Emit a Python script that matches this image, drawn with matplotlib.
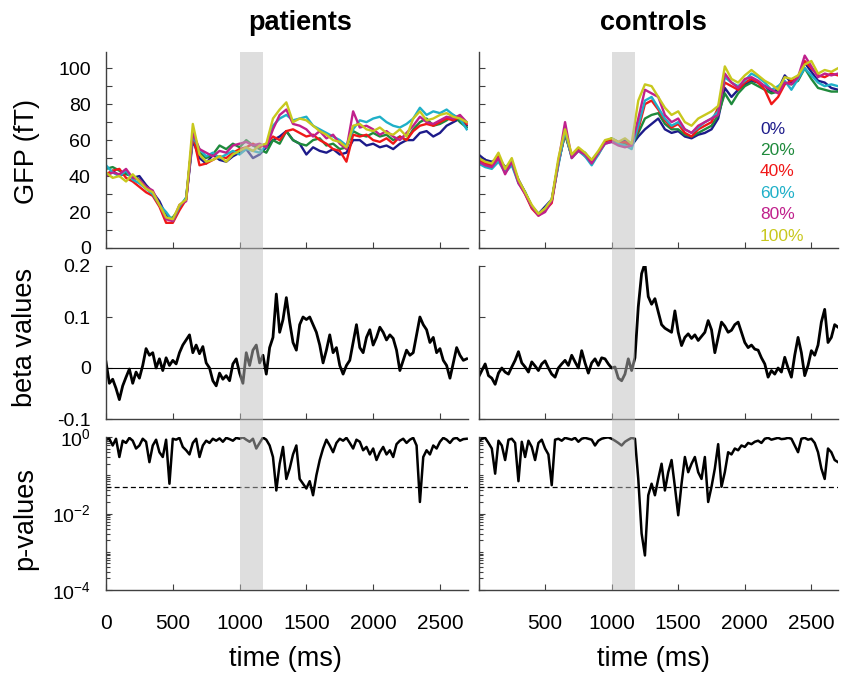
import numpy as np
import matplotlib
matplotlib.use('Agg')
import matplotlib.pyplot as plt
from matplotlib.patches import Rectangle
from matplotlib.transforms import blended_transform_factory
from matplotlib.ticker import FixedLocator, NullFormatter

plt.rcParams['font.family'] = ['Liberation Sans', 'DejaVu Sans']
plt.rcParams['mathtext.fontset'] = 'custom'
plt.rcParams['mathtext.rm'] = 'Liberation Sans'
plt.rcParams['mathtext.it'] = 'Liberation Sans:italic'
plt.rcParams['mathtext.bf'] = 'Liberation Sans:bold'

##### data #####
groups = ['patients', 'controls']
levels = ['0%', '20%', '40%', '60%', '80%', '100%']
level_colors = ['#1c1a8a', '#1f8a3c', '#f01818', '#1fb0c8', '#c0208c', '#c8c81e']

# GFP (fT), sampled every 50 ms from 0 to 2700 ms
t_gfp = np.arange(0, 2701, 50)
gfp_patients = [
    [40, 43, 40, 42, 39, 40, 35, 31, 26, 18, 15, 23, 27, 60, 50, 47, 52, 49, 48, 51,
     53, 55, 50, 52, 56, 60, 62, 65, 60, 58, 52, 56, 54, 53, 55, 52, 53, 60, 60, 57,
     58, 56, 57, 55, 58, 60, 60, 64, 65, 62, 64, 68, 70, 72, 68],
    [44, 45, 43, 41, 40, 38, 34, 30, 24, 16, 17, 22, 28, 62, 53, 50, 52, 57, 55, 58,
     56, 60, 57, 55, 53, 60, 58, 65, 60, 58, 57, 60, 61, 57, 58, 55, 56, 65, 63, 62,
     64, 62, 63, 60, 62, 60, 66, 70, 72, 68, 69, 71, 74, 70, 67],
    [41, 43, 44, 39, 37, 34, 31, 29, 23, 14, 14, 21, 27, 63, 46, 47, 49, 51, 50, 53,
     55, 56, 58, 56, 58, 62, 60, 65, 66, 64, 62, 63, 60, 58, 55, 54, 48, 63, 62, 63,
     60, 59, 61, 58, 62, 60, 65, 68, 69, 68, 70, 72, 71, 73, 69],
    [46, 42, 40, 43, 38, 36, 33, 30, 24, 20, 15, 23, 28, 62, 55, 51, 53, 50, 52, 54,
     52, 55, 54, 53, 57, 68, 72, 74, 71, 72, 73, 68, 66, 64, 62, 60, 57, 66, 71, 70,
     72, 73, 70, 68, 67, 69, 72, 78, 74, 76, 75, 77, 74, 72, 66],
    [40, 42, 41, 44, 39, 38, 34, 32, 24, 16, 15, 24, 26, 64, 55, 53, 51, 54, 53, 57,
     58, 59, 57, 58, 56, 66, 74, 77, 69, 68, 66, 62, 65, 61, 63, 58, 55, 76, 67, 68,
     66, 63, 65, 62, 60, 64, 68, 73, 70, 69, 71, 73, 72, 74, 70],
    [42, 39, 40, 37, 41, 37, 33, 31, 24, 17, 16, 24, 27, 69, 52, 48, 49, 51, 48, 52,
     54, 56, 54, 57, 58, 72, 77, 81, 70, 72, 71, 68, 65, 63, 60, 59, 56, 68, 69, 66,
     65, 67, 64, 63, 66, 62, 72, 76, 71, 72, 74, 75, 73, 72, 70],
]
gfp_controls = [
    [52, 49, 48, 50, 45, 47, 38, 31, 23, 19, 23, 27, 47, 64, 51, 55, 52, 49, 53, 59,
     60, 58, 60, 57, 62, 66, 69, 72, 66, 64, 65, 62, 61, 63, 64, 66, 72, 89, 84, 88,
     91, 93, 92, 90, 87, 88, 96, 92, 95, 103, 98, 93, 92, 89, 88],
    [49, 47, 46, 50, 43, 48, 37, 31, 23, 19, 22, 26, 48, 63, 51, 54, 53, 48, 53, 59,
     61, 59, 58, 57, 64, 72, 74, 75, 69, 66, 66, 63, 62, 64, 66, 68, 74, 86, 80, 86,
     90, 92, 90, 88, 86, 87, 92, 91, 93, 100, 94, 89, 88, 87, 87],
    [49, 47, 46, 51, 43, 47, 37, 30, 22, 18, 21, 25, 47, 64, 51, 55, 51, 48, 52, 59,
     60, 58, 59, 57, 66, 80, 82, 77, 71, 67, 69, 64, 62, 66, 68, 70, 78, 92, 90, 88,
     92, 94, 92, 88, 80, 84, 91, 93, 94, 104, 100, 96, 95, 97, 96],
    [47, 45, 44, 48, 42, 46, 36, 31, 23, 19, 22, 27, 46, 65, 50, 54, 51, 46, 52, 58,
     59, 58, 57, 55, 68, 82, 84, 78, 72, 68, 70, 66, 64, 67, 70, 72, 76, 95, 92, 90,
     93, 97, 95, 92, 88, 90, 93, 88, 94, 100, 96, 92, 90, 91, 90],
    [48, 46, 45, 50, 41, 48, 36, 30, 23, 18, 20, 26, 48, 70, 50, 54, 52, 47, 53, 58,
     59, 57, 56, 57, 72, 88, 86, 84, 74, 70, 72, 66, 64, 68, 70, 72, 74, 97, 92, 89,
     94, 95, 93, 90, 88, 86, 92, 91, 95, 107, 101, 95, 97, 96, 97],
    [50, 48, 47, 53, 44, 50, 38, 31, 24, 19, 22, 27, 50, 66, 52, 56, 53, 49, 54, 60,
     61, 59, 61, 58, 82, 91, 90, 84, 78, 74, 76, 70, 68, 72, 74, 76, 79, 101, 94, 92,
     96, 99, 96, 93, 91, 88, 95, 94, 96, 102, 104, 97, 99, 98, 100],
]

# beta values and p-values, sampled every 25 ms from 0 to 2700 ms
t_fine = np.arange(0, 2701, 25)
beta_patients = [
    0.012, -0.03, -0.022, -0.04, -0.062, -0.035, -0.018, -0.002, -0.03, -0.008,
    -0.02, 0.005, 0.038, 0.025, 0.03, 0.0, 0.018, -0.005, 0.02, 0.005,
    0.015, 0.008, 0.03, 0.045, 0.055, 0.065, 0.03, 0.045, 0.028, 0.042,
    0.01, 0.0, -0.025, -0.035, -0.01, -0.022, -0.015, -0.025, 0.008, 0.018,
    -0.01, -0.03, 0.03, 0.005, 0.035, 0.045, 0.01, 0.025, -0.012, 0.04,
    0.06, 0.145, 0.07, 0.095, 0.138, 0.09, 0.05, 0.035, 0.085, 0.1,
    0.095, 0.1, 0.085, 0.07, 0.045, 0.01, 0.035, 0.065, 0.03, 0.04,
    0.005, -0.012, 0.005, 0.015, 0.05, 0.085, 0.04, 0.03, 0.06, 0.075,
    0.045, 0.06, 0.08, 0.07, 0.055, 0.065, 0.058, 0.035, -0.005, 0.015,
    0.035, 0.025, 0.03, 0.065, 0.1, 0.085, 0.075, 0.05, 0.06, 0.03,
    0.038, 0.015, 0.005, -0.02, 0.01, 0.04, 0.025, 0.015, 0.018]
beta_controls = [
    -0.018, -0.005, 0.008, -0.015, -0.02, -0.032, -0.01, 0.0, -0.008, -0.012,
    0.002, 0.015, 0.032, 0.01, 0.002, -0.008, 0.012, 0.004, -0.005, 0.008,
    0.014, 0.0, -0.012, -0.018, 0.0, 0.008, 0.015, 0.005, 0.025, 0.012,
    0.0, 0.034, 0.01, -0.01, 0.01, 0.018, 0.005, 0.02, 0.018, 0.008,
    0.0, 0.002, -0.02, -0.025, -0.012, 0.018, -0.005, 0.02, 0.12, 0.185,
    0.205, 0.14, 0.125, 0.136, 0.11, 0.085, 0.078, 0.074, 0.07, 0.112,
    0.07, 0.044, 0.06, 0.067, 0.058, 0.065, 0.054, 0.062, 0.07, 0.093,
    0.075, 0.03, 0.06, 0.09, 0.082, 0.07, 0.074, 0.085, 0.09, 0.07,
    0.05, 0.04, 0.045, 0.037, 0.035, 0.02, 0.008, -0.018, -0.005, -0.012,
    0.0, -0.008, 0.021, 0.0, -0.018, 0.025, 0.06, 0.03, -0.015, 0.005,
    0.034, 0.025, 0.045, 0.09, 0.115, 0.05, 0.06, 0.085, 0.08]
p_patients = [
    0.85, 0.9, 0.6, 0.9, 0.3, 0.8, 0.7, 0.95, 0.8, 0.5,
    0.6, 0.9, 0.75, 0.22, 0.6, 0.85, 0.4, 0.3, 0.85, 0.06,
    0.9, 0.85, 0.95, 0.55, 0.45, 0.35, 0.7, 0.9, 0.3, 0.6,
    0.8, 0.7, 0.9, 0.8, 0.92, 0.75, 0.95, 0.88, 0.8, 0.95,
    0.9, 0.98, 0.85, 0.75, 0.9, 0.5, 0.7, 0.97, 0.85, 0.6,
    0.3, 0.04, 0.2, 0.55, 0.08, 0.15, 0.35, 0.6, 0.08, 0.06,
    0.045, 0.07, 0.03, 0.1, 0.25, 0.5, 0.85, 0.6, 0.4, 0.7,
    0.9, 0.8, 0.95, 0.7, 0.5, 0.85, 0.75, 0.45, 0.55, 0.35,
    0.5, 0.25, 0.4, 0.55, 0.35, 0.45, 0.3, 0.65, 0.8, 0.9,
    0.7, 0.85, 0.95, 0.6, 0.02, 0.3, 0.45, 0.35, 0.6, 0.5,
    0.75, 0.95, 0.85, 0.7, 0.9, 0.95, 0.8, 0.88, 0.9]
p_controls = [
    0.75, 0.9, 0.95, 0.7, 0.5, 0.11, 0.8, 0.6, 0.25, 0.85,
    0.9, 0.7, 0.07, 0.75, 0.3, 0.8, 0.55, 0.25, 0.7, 0.85,
    0.5, 0.35, 0.055, 0.85, 0.9, 0.8, 0.95, 0.9, 0.85, 0.95,
    0.75, 0.9, 0.95, 0.9, 0.85, 0.6, 0.8, 0.9, 0.95, 0.98,
    0.9, 0.8, 0.7, 0.6, 0.75, 0.85, 0.95, 0.9, 0.08, 0.003,
    0.0008, 0.03, 0.06, 0.03, 0.08, 0.2, 0.04, 0.12, 0.25, 0.05,
    0.009, 0.06, 0.3, 0.12, 0.2, 0.3, 0.12, 0.08, 0.3, 0.02,
    0.05, 0.15, 0.65, 0.05, 0.12, 0.4, 0.35, 0.5, 0.45, 0.6,
    0.55, 0.7, 0.65, 0.75, 0.8, 0.7, 0.9, 0.95, 0.85, 0.9,
    0.95, 0.88, 0.9, 0.95, 0.9, 0.6, 0.4, 0.9, 0.95, 0.85,
    0.9, 0.7, 0.4, 0.15, 0.08, 0.5, 0.4, 0.25, 0.22]

window = (1000, 1175)   # grey time window
p_thresh = 0.05

##### figure #####
W, H = 846, 673
fig = plt.figure(figsize=(W / 100, H / 100), dpi=100)


def add_ax(x0, x1, y0, y1):
    return fig.add_axes([x0 / W, 1 - y1 / H, (x1 - x0) / W, (y1 - y0) / H])


cols_px = [(106, 468, 2710), (478.5, 838, 2700)]
rows_px = [(52, 248), (266, 419), (437, 590)]
spine_col = '#404040'

axes = []
for ci, (x0, x1, xmax) in enumerate(cols_px):
    col = []
    for ri, (y0, y1) in enumerate(rows_px):
        ax = add_ax(x0, x1, y0, y1)
        ax.set_xlim(0, xmax)
        for s in ['top', 'right']:
            ax.spines[s].set_visible(False)
        for s in ['left', 'bottom']:
            ax.spines[s].set_color(spine_col)
            ax.spines[s].set_linewidth(1.0)
        ax.tick_params(which='both', direction='in', color=spine_col, width=0.8)
        ax.tick_params(which='major', length=4.5)
        ax.tick_params(which='minor', length=3)
        ax.tick_params(axis='y', labelsize=14, pad=11)
        ax.tick_params(axis='x', labelsize=15, pad=17)
        col.append(ax)
    axes.append(col)

gfp_all = [gfp_patients, gfp_controls]
beta_all = [beta_patients, beta_controls]
p_all = [p_patients, p_controls]

for ci in range(2):
    ax_g, ax_b, ax_p = axes[ci]

    # GFP per level
    for vals, c in zip(gfp_all[ci], level_colors):
        ax_g.plot(t_gfp, vals, color=c, lw=1.7)
    ax_g.set_ylim(0, 109)
    ax_g.yaxis.set_major_locator(FixedLocator([0, 20, 40, 60, 80, 100]))
    ax_g.yaxis.set_minor_locator(FixedLocator([10, 30, 50, 70, 90]))
    ax_g.tick_params(which='minor', length=4.5)

    # beta values
    ax_b.axhline(0, color='k', lw=0.8)
    ax_b.plot(t_fine, beta_all[ci], color='k', lw=2.0)
    ax_b.set_ylim(-0.1, 0.2)
    ax_b.set_yticks([-0.1, 0, 0.1, 0.2])
    ax_b.set_yticklabels(['-0.1', '0', '0.1', '0.2'])

    # p-values
    ax_p.set_yscale('log')
    ax_p.plot(t_fine, p_all[ci], color='k', lw=1.8)
    ax_p.axhline(p_thresh, color='k', lw=0.9, ls=(0, (4, 2.5)))
    ax_p.set_ylim(1e-4, 1.0)
    ax_p.yaxis.set_major_locator(FixedLocator([1e-4, 1e-2, 1.0]))
    minors = [k * 10.0 ** d for d in range(-4, 0) for k in range(1, 10)
              if not (k == 1 and d in (-4, -2))]
    ax_p.yaxis.set_minor_locator(FixedLocator(minors))
    ax_p.yaxis.set_minor_formatter(NullFormatter())
    ax_p.set_yticklabels([r'$10^{-4}$', r'$10^{-2}$', r'$10^{0}$'])

    for ax in (ax_g, ax_b):
        ax.set_xticks([0, 500, 1000, 1500, 2000, 2500])
        ax.set_xticklabels([])
    if ci == 0:
        ax_p.set_xticks([0, 500, 1000, 1500, 2000, 2500])
        ax_p.set_xticklabels(['0', '500', '1000', '1500', '2000', '2500'])
    else:
        ax_p.set_xticks([0, 500, 1000, 1500, 2000, 2500])
        ax_p.set_xticklabels(['', '500', '1000', '1500', '2000', '2500'])
        for ax in (ax_g, ax_b, ax_p):
            ax.set_yticklabels([])

    # grey window spanning all three rows
    y_bot = 1 - rows_px[2][1] / H
    y_top = 1 - rows_px[0][0] / H
    tr = blended_transform_factory(ax_p.transData, fig.transFigure)
    rect = Rectangle((window[0], y_bot), window[1] - window[0], y_top - y_bot,
                     transform=tr, facecolor='#bebebe', alpha=0.5,
                     edgecolor='none', zorder=5)
    fig.add_artist(rect)

# legend of levels (top right panel)
ax_leg = axes[1][0]
for i, (lab, c) in enumerate(zip(levels, level_colors)):
    ax_leg.text(0.783, 0.607 - i * 0.1095, lab, color=c, fontsize=12.5,
                transform=ax_leg.transAxes, ha='left', va='center')

# titles and labels
fig.text(300 / W, 1 - 23 / H, 'patients', fontsize=19.5, fontweight='bold',
         ha='center', va='center')
fig.text(653 / W, 1 - 23 / H, 'controls', fontsize=19.5, fontweight='bold',
         ha='center', va='center')
fig.text(27 / W, 1 - 152 / H, 'GFP (fT)', fontsize=19.5, rotation=90,
         ha='center', va='center')
fig.text(25 / W, 1 - 337 / H, 'beta values', fontsize=19.5, rotation=90,
         ha='center', va='center')
fig.text(25 / W, 1 - 518 / H, 'p-values', fontsize=19.5, rotation=90,
         ha='center', va='center')
fig.text(285 / W, 1 - 659 / H, 'time (ms)', fontsize=19.5, ha='center', va='center')
fig.text(653 / W, 1 - 659 / H, 'time (ms)', fontsize=19.5, ha='center', va='center')

fig.savefig('out.png', dpi=100)
